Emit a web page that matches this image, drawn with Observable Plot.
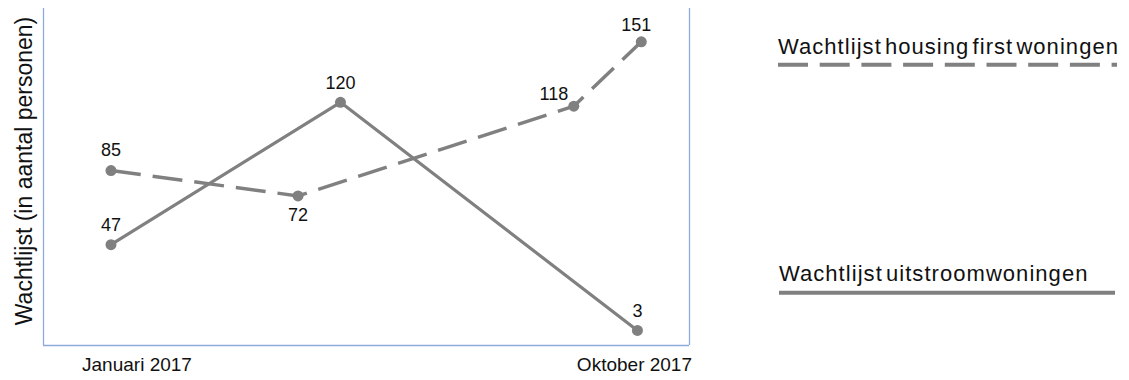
<!DOCTYPE html>
<html>
<head>
<meta charset="utf-8">
<script src="https://cdn.jsdelivr.net/npm/d3@7"></script>
<script src="https://cdn.jsdelivr.net/npm/@observablehq/plot@0.6"></script>
<style>
  html, body { margin: 0; padding: 0; background: #fff; }
  #chart { position: relative; width: 1129px; height: 380px; overflow: hidden; }
  #chart > svg { position: absolute; left: 0; top: 0; }
</style>
</head>
<body>
<div id="chart"></div>
<script>
// Wachtlijst housing first woningen (dashed series)
const housingDates = ["2017-01-01", "2017-04-08", "2017-08-29", "2017-10-03"];
const housingValues = [85, 72, 118, 151];

// Wachtlijst uitstroomwoningen (solid series)
const uitstroomDates = ["2017-01-01", "2017-04-30", "2017-10-01"];
const uitstroomValues = [47, 120, 3];

// Axis texts
const tickDates = ["2017-01-01", "2017-10-01"];
const tickLabels = ["Januari 2017", "Oktober 2017"];
const yTitle = "Wachtlijst (in aantal personen)";
const seriesNames = ["Wachtlijst housing first woningen", "Wachtlijst uitstroomwoningen"];

const parse = d3.utcParse("%Y-%m-%d");
const housing = housingDates.map((d, i) => ({date: parse(d), value: housingValues[i]}));
const uitstroom = uitstroomDates.map((d, i) => ({date: parse(d), value: uitstroomValues[i]}));
const ticks = tickDates.map((d, i) => ({date: parse(d), label: tickLabels[i]}));

const gray = "#808080";
const axisBlue = "#8eaadb";
const ink = "#111";
const font = "'Liberation Sans', Arial, sans-serif";

const xDomain = [parse("2016-11-27"), parse("2017-10-28")];
const yDomain = [-4.7, 168.1];

const labelStyle = {fontSize: 18, fill: ink, style: "letter-spacing:0.3px"};
const tickStyle = {fontSize: 19, fill: ink, style: "letter-spacing:0.4px"};

const plot = Plot.plot({
  width: 700,
  height: 380,
  marginLeft: 43,
  marginRight: 11,
  marginTop: 8,
  marginBottom: 35,
  style: {fontFamily: font, background: "transparent"},
  x: {type: "utc", domain: xDomain, axis: null},
  y: {domain: yDomain, axis: null},
  marks: [
    // plot border: left, right and bottom
    Plot.ruleX([xDomain[0], xDomain[1]], {stroke: axisBlue, strokeWidth: 1.3}),
    Plot.ruleY([yDomain[0]], {stroke: axisBlue, strokeWidth: 1.3}),

    // y axis title
    Plot.text([yTitle], {frameAnchor: "left", textAnchor: "middle", text: d => d, rotate: -90,
      dx: -19, dy: -6, fontSize: 23, fill: ink, style: "letter-spacing:0.2px"}),

    // x axis labels
    Plot.text(ticks.slice(0, 1), {x: "date", text: "label", frameAnchor: "bottom", dy: 25, dx: 26, ...tickStyle}),
    Plot.text(ticks.slice(1), {x: "date", text: "label", frameAnchor: "bottom", dy: 25, dx: -3, ...tickStyle}),

    // series lines
    Plot.line(housing, {x: "date", y: "value", stroke: gray, strokeWidth: 3.5,
      strokeDasharray: "30,12", strokeLinecap: "butt"}),
    Plot.line(uitstroom, {x: "date", y: "value", stroke: gray, strokeWidth: 3.2}),
    Plot.dot(housing, {x: "date", y: "value", r: 5.5, fill: gray}),
    Plot.dot(uitstroom, {x: "date", y: "value", r: 5.5, fill: gray}),

    // value labels
    Plot.text(housing, {x: "date", y: "value", text: "value", filter: (d, i) => i === 0, dy: -20, ...labelStyle}),
    Plot.text(housing, {x: "date", y: "value", text: "value", filter: (d, i) => i === 1, dy: 19, ...labelStyle}),
    Plot.text(housing, {x: "date", y: "value", text: "value", filter: (d, i) => i === 2, dx: -20, dy: -12, ...labelStyle}),
    Plot.text(housing, {x: "date", y: "value", text: "value", filter: (d, i) => i === 3, dx: -5, dy: -17, ...labelStyle}),
    Plot.text(uitstroom, {x: "date", y: "value", text: "value", dy: -19, ...labelStyle})
  ]
});

const chart = document.getElementById("chart");
chart.appendChild(plot);

// legend on the right
const legend = d3.create("svg")
  .attr("width", 1129)
  .attr("height", 380)
  .style("font-family", font);

const legendItems = [
  {name: seriesNames[0], textY: 54, lineY: 64.7, x1: 778, x2: 1117, dash: "30,11.7"},
  {name: seriesNames[1], textY: 281, lineY: 292.7, x1: 779, x2: 1115, dash: null}
];

for (const item of legendItems) {
  legend.append("text")
    .attr("x", item.x1)
    .attr("y", item.textY)
    .attr("font-size", 22)
    .attr("fill", ink)
    .style("letter-spacing", "1.05px")
    .style("word-spacing", "-4px")
    .text(item.name);
  legend.append("line")
    .attr("x1", item.x1).attr("x2", item.x2)
    .attr("y1", item.lineY).attr("y2", item.lineY)
    .attr("stroke", gray)
    .attr("stroke-width", 4)
    .attr("stroke-dasharray", item.dash);
}

chart.appendChild(legend.node());
</script>
</body>
</html>
